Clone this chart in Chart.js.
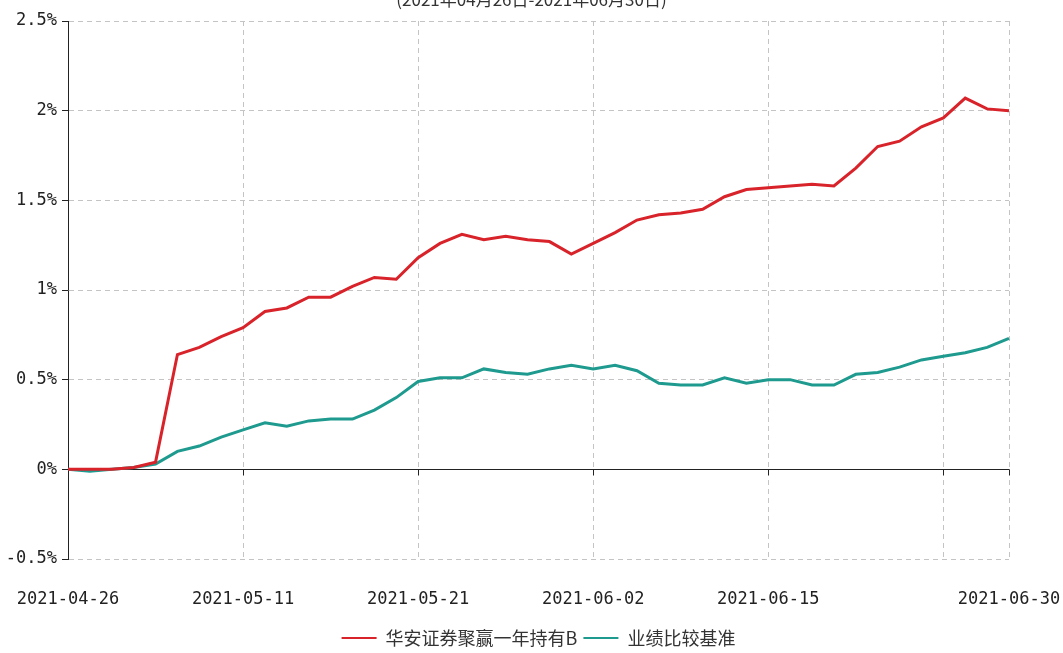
<!DOCTYPE html>
<html>
<head>
<meta charset="utf-8">
<script src="https://cdn.jsdelivr.net/npm/chart.js@4/dist/chart.umd.min.js"></script>
<style>
  html, body { margin: 0; padding: 0; background: #fff; overflow: hidden; }
  #wrap { position: relative; width: 1063px; height: 653px; overflow: hidden; }
  #title {
    position: absolute; top: -14px; left: 0; width: 1063px; text-align: center;
    font: 17px "Noto Sans CJK SC", sans-serif; color: #333;
  }
</style>
</head>
<body>
<div id="wrap">
  <div id="title">(2021年04月26日-2021年06月30日)</div>
  <canvas id="chart" width="1063" height="657"></canvas>
</div>
<script>
// trading days
const dates = [
  '2021-04-26','2021-04-27','2021-04-28','2021-04-29','2021-04-30','2021-05-06','2021-05-07','2021-05-10',
  '2021-05-11','2021-05-12','2021-05-13','2021-05-14','2021-05-17','2021-05-18','2021-05-19','2021-05-20',
  '2021-05-21','2021-05-24','2021-05-25','2021-05-26','2021-05-27','2021-05-28','2021-05-31','2021-06-01',
  '2021-06-02','2021-06-03','2021-06-04','2021-06-07','2021-06-08','2021-06-09','2021-06-10','2021-06-11',
  '2021-06-15','2021-06-16','2021-06-17','2021-06-18','2021-06-21','2021-06-22','2021-06-23','2021-06-24',
  '2021-06-25','2021-06-28','2021-06-29','2021-06-30'
];

// cumulative return, %
const fundValues = [
  0.00, 0.00, 0.00, 0.01, 0.04, 0.64, 0.68, 0.74,
  0.79, 0.88, 0.90, 0.96, 0.96, 1.02, 1.07, 1.06,
  1.18, 1.26, 1.31, 1.28, 1.30, 1.28, 1.27, 1.20,
  1.26, 1.32, 1.39, 1.42, 1.43, 1.45, 1.52, 1.56,
  1.57, 1.58, 1.59, 1.58, 1.68, 1.80, 1.83, 1.91,
  1.96, 2.07, 2.01, 2.00
];
const benchValues = [
  0.00, -0.01, 0.00, 0.01, 0.03, 0.10, 0.13, 0.18,
  0.22, 0.26, 0.24, 0.27, 0.28, 0.28, 0.33, 0.40,
  0.49, 0.51, 0.51, 0.56, 0.54, 0.53, 0.56, 0.58,
  0.56, 0.58, 0.55, 0.48, 0.47, 0.47, 0.51, 0.48,
  0.50, 0.50, 0.47, 0.47, 0.53, 0.54, 0.57, 0.61,
  0.63, 0.65, 0.68, 0.73
];

const seriesNames = ['华安证券聚赢一年持有B', '业绩比较基准'];
const tickDates = ['2021-04-26','2021-05-11','2021-05-21','2021-06-02','2021-06-15','2021-06-30'];
const gridDates = ['2021-05-11','2021-05-21','2021-06-02','2021-06-15','2021-06-25','2021-06-30'];

const monoFont = { family: '"DejaVu Sans Mono", monospace', size: 17 };

// small tick marks hanging off the zero line, like the original
const zeroTicks = {
  id: 'zeroTicks',
  beforeDatasetsDraw(chart) {
    const { ctx, scales: { x, y } } = chart;
    const y0 = y.getPixelForValue(0);
    ctx.save();
    ctx.strokeStyle = '#222';
    ctx.lineWidth = 1;
    dates.forEach((d, i) => {
      if (!gridDates.includes(d)) return;
      const px = Math.round(x.getPixelForValue(i)) + 0.5;
      ctx.beginPath();
      ctx.moveTo(px, y0);
      ctx.lineTo(px, y0 + 6);
      ctx.stroke();
    });
    ctx.restore();
  }
};

new Chart(document.getElementById('chart'), {
  type: 'line',
  data: {
    labels: dates,
    datasets: [
      {
        label: seriesNames[0],
        data: fundValues,
        borderColor: '#d9232a',
        backgroundColor: '#d9232a',
        borderWidth: 3,
        pointRadius: 0,
        pointStyle: 'line',
        tension: 0
      },
      {
        label: seriesNames[1],
        data: benchValues,
        borderColor: '#1e9a8f',
        backgroundColor: '#1e9a8f',
        borderWidth: 3,
        pointRadius: 0,
        pointStyle: 'line',
        tension: 0
      }
    ]
  },
  options: {
    responsive: false,
    animation: false,
    layout: { padding: { left: 0, right: 54, top: 21, bottom: 0 } },
    plugins: {
      tooltip: { enabled: false },
      legend: {
        position: 'bottom',
        fullSize: false,
        labels: {
          font: { family: '"Noto Sans CJK SC", sans-serif', size: 18 },
          color: '#333',
          usePointStyle: true,
          pointStyleWidth: 35,
          padding: 6,
          generateLabels(chart) {
            const items = Chart.defaults.plugins.legend.labels.generateLabels(chart);
            items.forEach(it => { it.lineWidth = 2; });
            return items;
          }
        }
      }
    },
    scales: {
      x: {
        type: 'category',
        grid: {
          color: ctx => gridDates.includes(dates[ctx.index]) ? '#c4c4c4' : 'rgba(0,0,0,0)',
          drawTicks: false
        },
        border: { display: false, dash: [5, 4] },
        ticks: {
          autoSkip: false,
          maxRotation: 0,
          padding: 30,
          color: '#222',
          font: monoFont,
          callback: (v, i) => tickDates.includes(dates[i]) ? dates[i] : ''
        },
        afterFit(scale) {
          scale.height = 64;
          scale.paddingLeft = 0;
          scale.paddingRight = 0;
        }
      },
      y: {
        min: -0.5,
        max: 2.5,
        grid: {
          color: ctx => ctx.tick && ctx.tick.value === 0 ? '#222' : '#c4c4c4',
          tickColor: '#222',
          tickLength: 6
        },
        border: {
          display: true,
          color: '#222',
          width: 1,
          dash: ctx => ctx.tick && ctx.tick.value === 0 ? [] : [5, 4]
        },
        ticks: {
          stepSize: 0.5,
          padding: 5,
          color: '#222',
          font: monoFont,
          callback: v => v + '%'
        },
        afterFit(scale) {
          scale.width = 68;
          scale.paddingTop = 0;
          scale.paddingBottom = 0;
        }
      }
    }
  },
  plugins: [zeroTicks]
});
</script>
</body>
</html>
